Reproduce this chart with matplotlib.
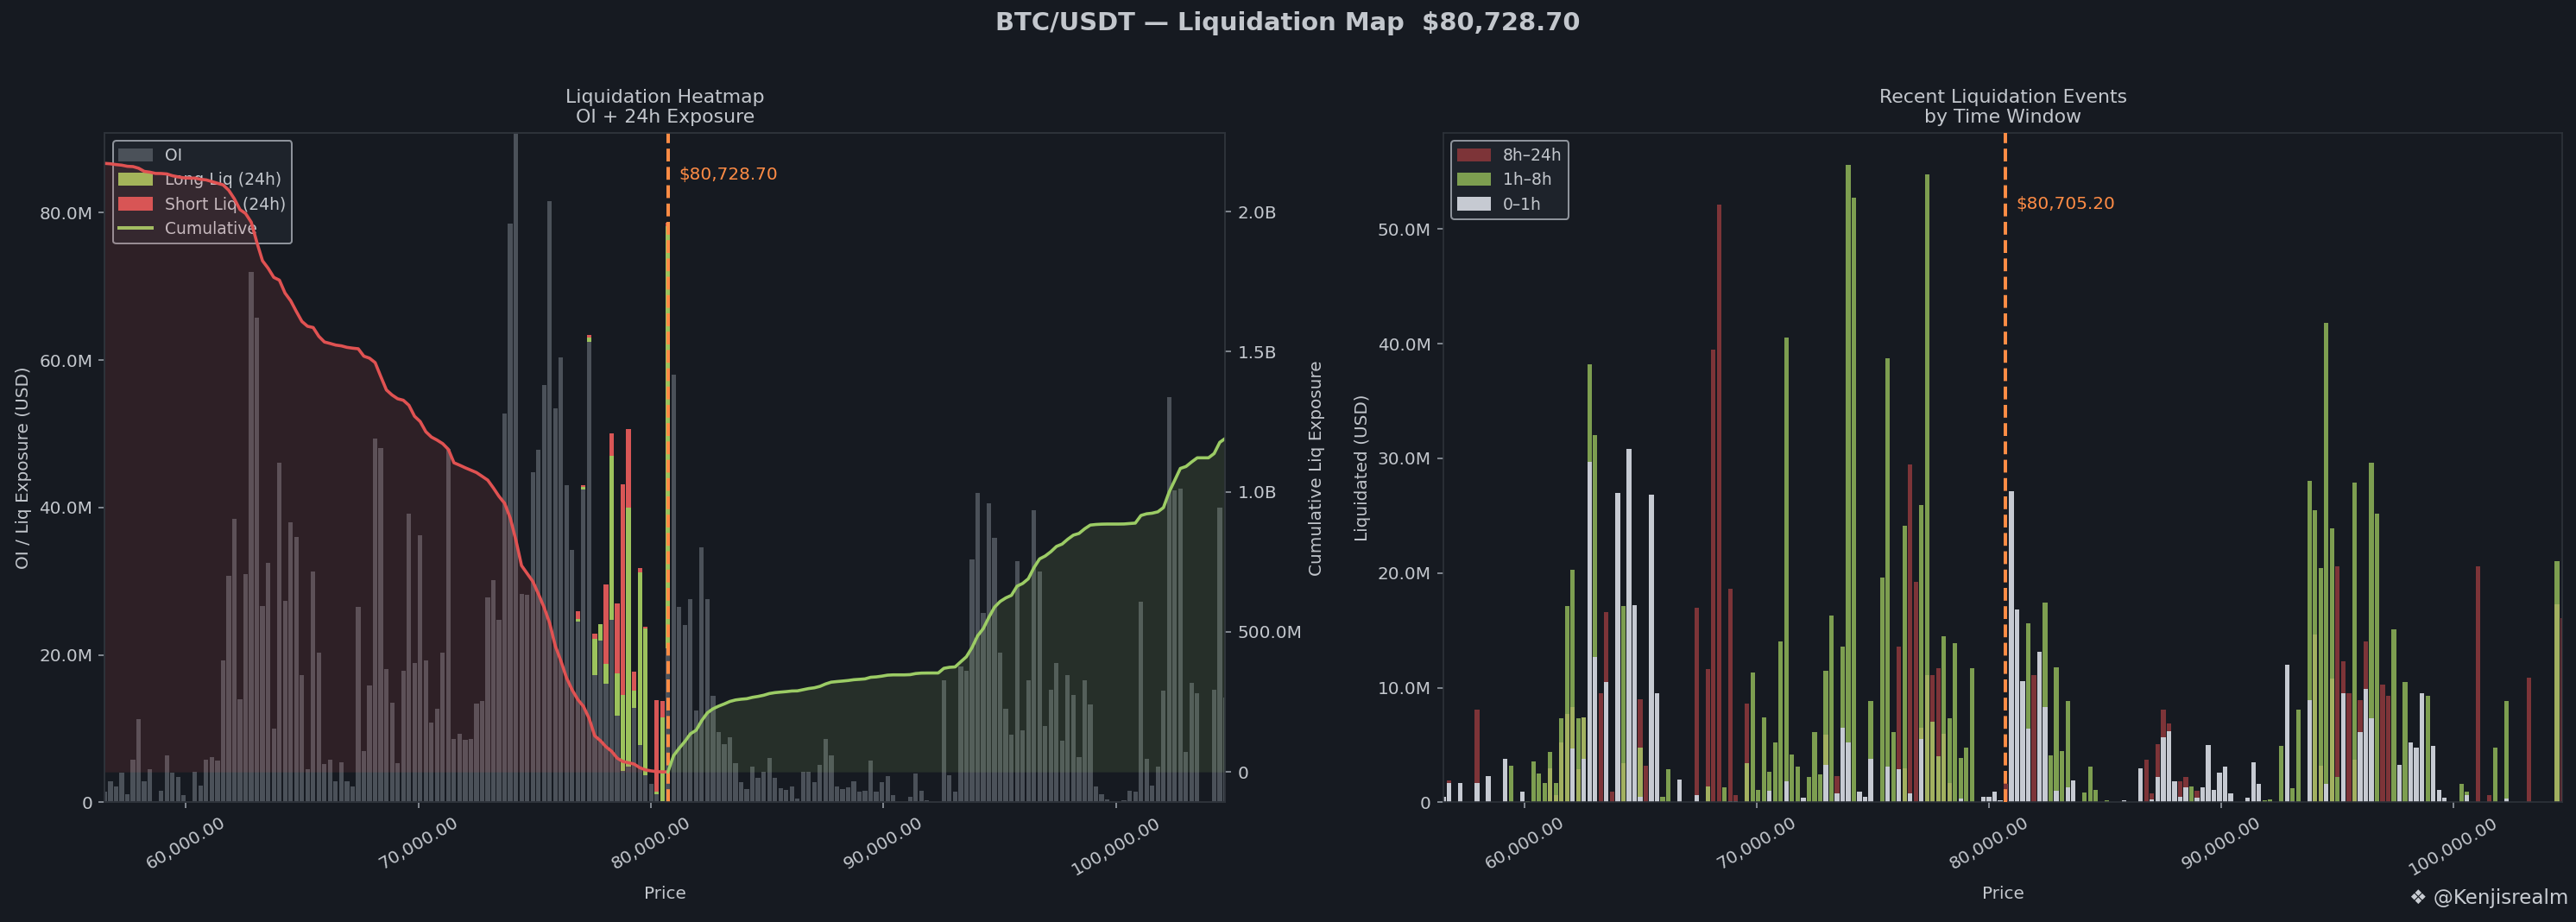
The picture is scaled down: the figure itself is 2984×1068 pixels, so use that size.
#!/usr/bin/env python3
# -*- coding: utf-8 -*-
"""
BTC/USDT liquidation map: OI + 24h liquidations per price bin (left) and
recent liquidation events split by time window (right).
"""
import numpy as np
import matplotlib
matplotlib.use("Agg")
import matplotlib.pyplot as plt
from matplotlib.patches import Patch
from matplotlib.lines import Line2D
from matplotlib.ticker import FuncFormatter

PRICE = 80728.70          # mark price used by the heatmap
PRICE_RECENT = 80705.20   # price at the time of the events snapshot
BIN_STEP = 0.003          # bin width relative to price (0.3 %)
BIN_OFFSETS = np.arange(-100, 100)

# open interest per bin, millions USD (bin 0 = 0.70 * PRICE)
oi_m = [
    1.5, 2.8, 2.1, 4.0, 1.1, 5.8, 11.3, 2.8, 4.5, 0.2,
    1.6, 6.4, 4.0, 3.4, 1.0, 0.0, 4.2, 2.3, 5.8, 6.1,
    5.7, 19.2, 30.7, 38.5, 14.0, 31.0, 72.0, 65.7, 26.6, 32.5,
    10.0, 46.1, 27.3, 38.0, 36.0, 17.2, 4.5, 31.3, 20.3, 5.2,
    5.8, 2.8, 5.4, 2.8, 2.2, 26.5, 7.0, 15.8, 49.4, 48.1,
    18.1, 13.5, 5.3, 17.9, 39.2, 18.9, 36.2, 19.2, 10.8, 12.7,
    20.3, 47.9, 8.6, 9.3, 8.5, 8.6, 13.4, 13.7, 27.8, 30.1,
    24.8, 52.7, 78.5, 91.0, 28.3, 28.1, 44.8, 47.8, 56.6, 81.5,
    53.5, 60.4, 43.0, 34.2, 24.5, 42.4, 62.5, 17.2, 21.9, 16.1,
    24.7, 11.8, 4.3, 4.9, 12.8, 7.8, 3.7, 2.5, 1.1, 0.0,
    20.9, 58.0, 26.5, 24.0, 27.6, 12.4, 34.6, 27.6, 14.5, 9.5,
    7.9, 8.8, 5.3, 2.7, 1.8, 4.9, 3.3, 4.2, 6.0, 3.3,
    1.9, 1.7, 2.2, 0.5, 4.2, 4.1, 2.7, 5.1, 8.6, 6.4,
    2.1, 1.8, 2.0, 2.8, 1.4, 1.6, 5.7, 1.4, 2.7, 3.5,
    1.0, 0.0, 0.0, 0.8, 3.9, 1.6, 0.3, 0.1, 0.0, 16.6,
    3.7, 1.4, 18.4, 17.8, 32.9, 42.0, 25.7, 40.6, 35.9, 20.3,
    12.7, 9.2, 32.7, 9.8, 16.6, 39.6, 31.3, 10.4, 15.3, 18.9,
    8.4, 17.2, 14.6, 6.1, 16.5, 13.3, 2.2, 1.1, 0.4, 0.0,
    0.0, 0.3, 1.6, 1.5, 27.2, 5.9, 2.3, 4.8, 15.2, 55.0,
    42.3, 42.5, 6.8, 16.2, 14.8, 0.0, 0.0, 15.3, 40.0, 14.2,
]

# 24h liquidations stacked on OI (bins counted from the current-price bin)
liq_offsets = list(range(-16, 1))
long_liq_m = [0.35, 0.35, 0.55, 5.0, 2.3, 2.7, 22.3, 5.7, 10.3, 35.1,
              2.3, 23.4, 19.9, 0.0, 0.3, 11.5, 57.2]
short_liq_m = [1.1, 0.3, 0.3, 0.7, 0.0, 10.7, 3.1, 9.5, 28.5, 10.6,
               2.6, 0.6, 0.2, 0.0, 12.5, 2.3, 0.5]

# recent events, millions USD, keyed by bin index (same grid as OI)
win_8h_24h = {
    1: 1.9, 6: 8.1, 28: 9.5, 29: 16.6, 30: 0.9, 35: 9.0, 36: 3.2, 45: 17.0,
    47: 11.6, 48: 39.5, 49: 52.1, 51: 18.6, 52: 0.6, 54: 8.6, 70: 2.3,
    81: 13.6, 83: 29.5, 84: 19.2, 87: 11.1, 88: 11.7, 100: 1.6, 105: 11.1,
    125: 3.7, 126: 0.8, 127: 5.1, 128: 8.1, 129: 6.9, 131: 1.8, 132: 2.2,
    134: 1.0, 159: 20.6, 160: 12.3, 161: 9.5, 163: 8.9, 164: 14.0,
    167: 10.3, 168: 9.3, 184: 20.6, 186: 0.6, 193: 10.9, 199: 16.1,
}
win_1h_8h = {
    12: 3.2, 15: 0.1, 16: 3.6, 17: 2.5, 18: 1.7, 19: 4.4, 20: 1.7, 21: 7.3,
    22: 17.1, 23: 20.3, 24: 7.3, 25: 7.4, 26: 38.2, 27: 32.0, 32: 17.1,
    35: 4.8, 39: 0.5, 40: 2.9, 47: 1.4, 50: 1.3, 54: 3.4, 55: 11.3, 56: 1.1,
    57: 7.4, 58: 2.7, 59: 5.2, 60: 14.0, 61: 40.5, 62: 4.2, 63: 3.1,
    65: 2.2, 66: 6.1, 67: 2.4, 68: 11.5, 69: 16.3, 71: 13.6, 72: 55.6,
    73: 52.7, 76: 8.8, 78: 19.6, 79: 38.7, 80: 6.1, 82: 24.1, 85: 25.9,
    86: 54.8, 87: 7.0, 88: 4.0, 89: 14.5, 90: 7.3, 91: 13.9, 92: 3.9,
    93: 4.8, 94: 11.7, 104: 15.6, 107: 17.4, 108: 4.1, 109: 11.8, 110: 4.5,
    111: 8.8, 114: 0.85, 115: 3.1, 116: 1.1, 118: 0.15, 133: 1.4,
    146: 0.15, 147: 0.25, 149: 4.9, 151: 1.2, 152: 8.1, 154: 28.0,
    155: 25.5, 156: 20.4, 157: 41.8, 158: 23.9, 159: 2.2, 162: 27.9,
    165: 29.6, 166: 25.2, 169: 15.1, 171: 10.5, 175: 9.3, 181: 1.6,
    182: 0.9, 187: 4.8, 189: 8.8, 198: 21.0,
}
# part of the 1h-8h bar where long and short events overlap (lighter shade)
win_1h_8h_overlap = {
    19: 3.0, 20: 0.6, 21: 5.2, 22: 7.7, 23: 8.3, 24: 2.9, 25: 7.4, 32: 3.4,
    35: 4.8, 47: 1.4, 54: 3.4, 68: 5.9, 82: 3.0, 85: 6.5, 86: 11.1, 87: 7.0,
    88: 4.0, 89: 6.0, 90: 1.7, 155: 14.6, 156: 3.2, 158: 10.8, 162: 3.7,
    198: 17.3,
}
win_0_1h = {
    0: 0.5, 1: 1.7, 3: 1.7, 6: 1.7, 8: 2.3, 11: 3.8, 14: 0.9, 23: 4.7,
    25: 3.8, 26: 29.7, 27: 12.7, 29: 10.5, 31: 27.0, 33: 30.8, 34: 17.2,
    35: 0.5, 37: 26.8, 38: 9.5, 42: 2.0, 45: 0.6, 51: 0.1, 52: 0.1, 58: 1.0,
    61: 1.8, 64: 0.4, 68: 3.3, 70: 0.8, 71: 6.5, 72: 5.2, 74: 0.9, 75: 0.5,
    76: 3.8, 79: 3.1, 81: 2.9, 83: 0.8, 85: 5.5, 92: 0.35, 96: 0.5, 97: 0.5,
    98: 0.95, 99: 0.2, 101: 27.1, 102: 16.8, 103: 10.6, 104: 6.4, 106: 13.1,
    107: 8.3, 109: 1.0, 111: 1.3, 112: 1.9, 121: 0.15, 124: 3.0, 126: 0.25,
    127: 2.2, 128: 5.7, 129: 6.2, 130: 1.8, 131: 0.5, 132: 1.3, 134: 0.4,
    135: 1.3, 136: 5.0, 137: 1.1, 138: 2.6, 139: 3.1, 140: 0.75, 143: 0.4,
    144: 3.5, 145: 1.6, 150: 12.0, 151: 0.1, 154: 8.9, 157: 1.6, 160: 9.5,
    163: 6.1, 164: 9.9, 165: 7.3, 170: 3.3, 172: 5.2, 173: 4.8, 174: 9.5,
    176: 4.9, 177: 1.1, 178: 0.4, 182: 0.6, 189: 0.3,
}

BG = "#161a21"
TXT = "#c3c7cd"
SPINE = "#2e333b"
C_OI = "#4b5159"
C_LONG = "#9cc25c"
C_SHORT = "#d85656"
C_LINE_DN = "#e05252"
C_LINE_UP = "#9ccc65"
C_PRICE = "#ff8c45"
C_W24 = "#7d3438"
C_W8 = "#7d9e50"
C_W8_OV = "#a2b060"
C_W1 = "#c6cad2"
LEG_FS = 9.35


def human(v, pos=None):
    if v == 0:
        return "0"
    if abs(v) >= 1e9:
        return f"{v / 1e9:.1f}B"
    if abs(v) >= 1e6:
        return f"{v / 1e6:.1f}M"
    return f"{v:,.0f}"


def style_axes(ax):
    ax.set_facecolor(BG)
    for s in ax.spines.values():
        s.set_color(SPINE)
    ax.tick_params(colors="#9aa0a8", labelcolor=TXT, labelsize=10)
    ax.xaxis.set_major_formatter(FuncFormatter(lambda x, p: f"{x:,.2f}"))
    ax.yaxis.set_major_formatter(FuncFormatter(human))
    ax.tick_params(axis="x", rotation=30)


def dense(d, n):
    arr = np.zeros(n)
    for k, v in d.items():
        arr[k] = v
    return arr * 1e6


def price_label(ax, x, y_frac, text):
    ax.annotate(text, xy=(x, y_frac), xycoords=("data", "axes fraction"),
                xytext=(6.5, 0), textcoords="offset points",
                color=C_PRICE, fontsize=10, va="center", ha="left")


def plot_heatmap(ax, centers, width):
    oi = np.asarray(oi_m) * 1e6
    n = len(centers)
    long_liq = np.zeros(n)
    short_liq = np.zeros(n)
    for off, lv, sv in zip(liq_offsets, long_liq_m, short_liq_m):
        long_liq[100 + off] = lv * 1e6
        short_liq[100 + off] = sv * 1e6

    ax.bar(centers, oi, width=width, color=C_OI, zorder=2)
    ax.bar(centers, long_liq, width=width, bottom=oi, color=C_LONG, zorder=2)
    ax.bar(centers, short_liq, width=width, bottom=oi + long_liq,
           color=C_SHORT, zorder=2)
    ax.axvline(PRICE, color=C_PRICE, ls="--", lw=2, zorder=3)
    price_label(ax, PRICE, 0.938, f"${PRICE:,.2f}")
    ax.set_xlim(centers[0], centers[-1])
    ax.set_ylim(0, 90.8e6)
    ax.set_xlabel("Price", color=TXT, fontsize=10)
    ax.set_ylabel("OI / Liq Exposure (USD)", color=TXT, fontsize=10)
    ax.set_title("Liquidation Heatmap\nOI + 24h Exposure", color=TXT, fontsize=11)

    handles = [Patch(color=C_OI, label="OI"),
               Patch(color=C_LONG, label="Long Liq (24h)"),
               Patch(color=C_SHORT, label="Short Liq (24h)"),
               Line2D([], [], color=C_LINE_UP, lw=2, label="Cumulative")]
    leg = ax.legend(handles=handles, loc="upper left", fontsize=LEG_FS,
                    facecolor="#1e232b", edgecolor="#8e939b", framealpha=1,
                    labelcolor=TXT)
    leg.set_zorder(4)

    # cumulative OI outward from the current price
    ax2 = ax.twinx()
    below = centers < PRICE
    above = centers > PRICE
    cum_dn = np.cumsum(oi[below][::-1])[::-1]
    cum_up = np.cumsum(oi[above])
    x_dn = np.append(centers[below], PRICE)
    y_dn = np.append(cum_dn, 0)
    x_up = np.insert(centers[above], 0, PRICE)
    y_up = np.insert(cum_up, 0, 0)
    ax2.fill_between(x_dn, y_dn, 0, color=C_LINE_DN, alpha=0.12, lw=0)
    ax2.fill_between(x_up, y_up, 0, color=C_LINE_UP, alpha=0.12, lw=0)
    ax2.plot(x_dn, y_dn, color=C_LINE_DN, lw=1.8)
    ax2.plot(x_up, y_up, color=C_LINE_UP, lw=1.8)
    cmax = max(y_dn.max(), y_up.max())
    ax2.set_ylim(-0.05 * cmax, 1.05 * cmax)
    ax2.set_xlim(centers[0], centers[-1])
    for s in ax2.spines.values():
        s.set_color(SPINE)
    ax2.tick_params(colors="#9aa0a8", labelcolor=TXT, labelsize=10)
    ax2.yaxis.set_major_formatter(FuncFormatter(human))
    ax2.set_ylabel("Cumulative Liq Exposure", color=TXT, fontsize=10)


def plot_events(ax, centers, width):
    n = len(centers)
    ax.bar(centers, dense(win_8h_24h, n), width=width, color=C_W24, zorder=2)
    ax.bar(centers, dense(win_1h_8h, n), width=width, color=C_W8, zorder=2)
    ax.bar(centers, dense(win_1h_8h_overlap, n), width=width, color=C_W8_OV, zorder=2)
    ax.bar(centers, dense(win_0_1h, n), width=width, color=C_W1, zorder=2)
    ax.axvline(PRICE_RECENT, color=C_PRICE, ls="--", lw=2, zorder=3)
    price_label(ax, PRICE_RECENT, 0.893, f"${PRICE_RECENT:,.2f}")
    ax.set_xlim(centers[0], centers[-1])
    ax.set_xlabel("Price", color=TXT, fontsize=10)
    ax.set_ylabel("Liquidated (USD)", color=TXT, fontsize=10)
    ax.set_title("Recent Liquidation Events\nby Time Window", color=TXT, fontsize=11)
    handles = [Patch(color=C_W24, label="8h–24h"),
               Patch(color=C_W8, label="1h–8h"),
               Patch(color=C_W1, label="0–1h")]
    ax.legend(handles=handles, loc="upper left", fontsize=LEG_FS,
              facecolor="#1e232b", edgecolor="#8e939b", framealpha=1,
              labelcolor=TXT)


def main():
    dpi = 144
    fig = plt.figure(figsize=(2984 / dpi, 1068 / dpi), dpi=dpi, facecolor=BG)
    ax_l = fig.add_axes([0.0407, 0.1298, 0.4350, 0.7260])
    ax_r = fig.add_axes([0.5603, 0.1298, 0.4345, 0.7260])
    style_axes(ax_l)
    style_axes(ax_r)

    centers = PRICE * (1 + BIN_STEP * BIN_OFFSETS)
    width = 0.8 * PRICE * BIN_STEP
    plot_heatmap(ax_l, centers, width)
    plot_events(ax_r, centers, width)

    fig.suptitle(f"BTC/USDT — Liquidation Map  ${PRICE:,.2f}", color=TXT,
                 fontsize=14.5, fontweight="bold", y=0.975, va="center")
    fig.text(0.997, 0.026, "❖ @Kenjisrealm", color="#c8ccd2", fontsize=11.5,
             ha="right", va="center")
    fig.savefig("out.png", dpi=dpi, facecolor=BG)


if __name__ == "__main__":
    main()
